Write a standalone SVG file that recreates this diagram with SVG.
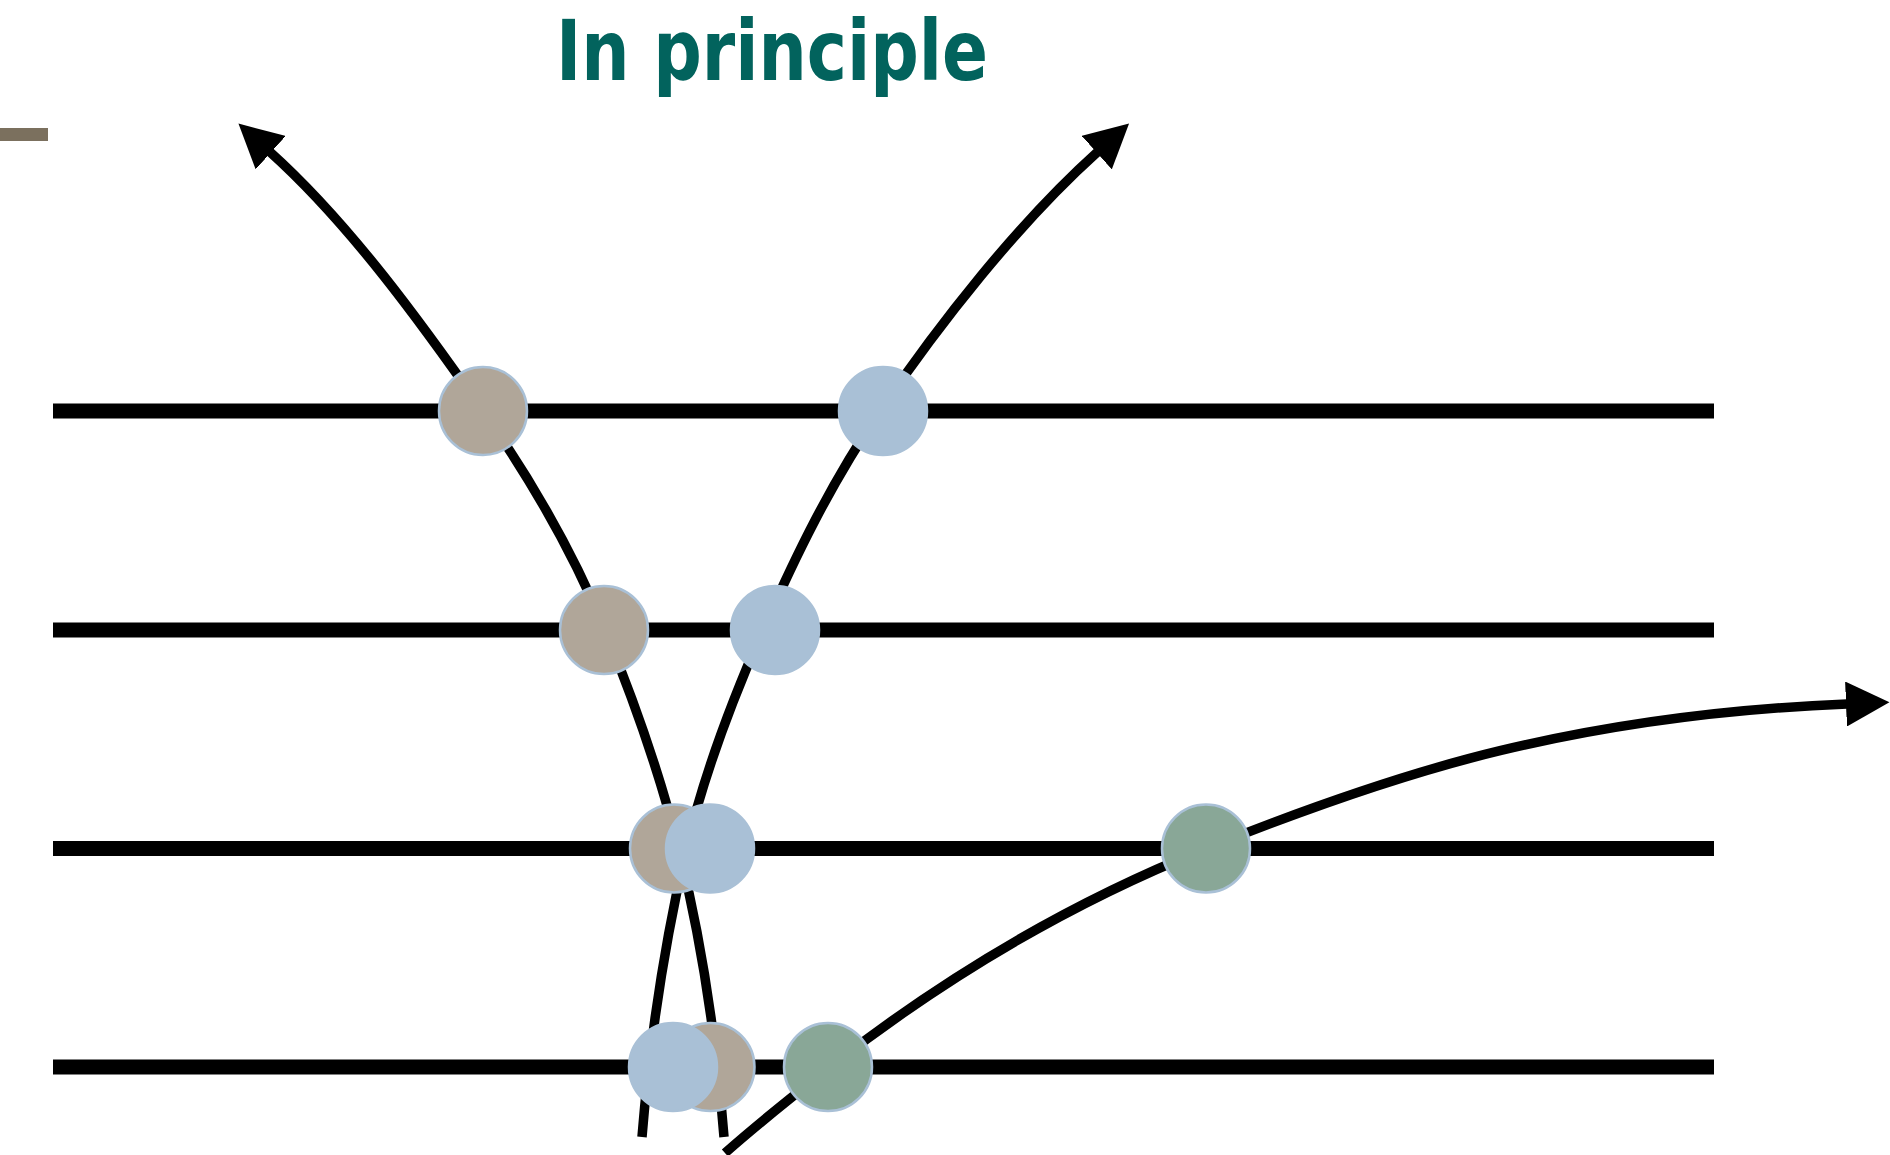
<svg xmlns="http://www.w3.org/2000/svg" width="1890" height="1155" viewBox="0 0 1890 1155">
  <style>
    .title { font-family: "DejaVu Sans Condensed", "DejaVu Sans", "Liberation Sans", sans-serif; font-weight: bold; font-size: 84px; fill: #02635d; }
    .layer { stroke: #000; stroke-width: 15; fill: none; }
    .track { stroke: #000; stroke-width: 9.5; fill: none; stroke-linecap: butt; }
    .hit { stroke: #a9c0d6; stroke-width: 2.5; }
    .hit-a { fill: #b0a699; }
    .hit-b { fill: #a9c0d6; }
    .hit-c { fill: #89a797; }
  </style>
  <defs>
    <marker id="arrow" markerUnits="userSpaceOnUse" orient="auto" viewBox="0 0 44 45" markerWidth="44" markerHeight="45" refX="1" refY="22.5">
      <path d="M0,0 L43.5,22.5 L0,45 Z" fill="#000"/>
    </marker>
  </defs>

  <rect width="1890" height="1155" fill="#fff"/>

  <!-- heading -->
  <text class="title" x="556" y="80" textLength="432" lengthAdjust="spacingAndGlyphs">In principle</text>
  <rect x="0" y="128" width="48" height="13" fill="#7b705e"/>

  <!-- detector layers -->
  <g id="layers">
    <line class="layer" x1="53" y1="411" x2="1714" y2="411"/>
    <line class="layer" x1="53" y1="630" x2="1714" y2="630"/>
    <line class="layer" x1="53" y1="848.5" x2="1714" y2="848.5"/>
    <line class="layer" x1="53" y1="1067" x2="1714" y2="1067"/>
  </g>

  <!-- particle tracks -->
  <g id="connectors">
    <path id="track-a" class="track" marker-end="url(#arrow)" d="M724,1137 C716.3,1041.3 702.9,945.7 679,850 C660.7,776.7 635.1,703.3 605,630 C575.1,557 534.1,484 483,411 C422.3,324.3 350,224 270,152"/>
    <path id="track-b" class="track" marker-end="url(#arrow)" d="M642,1137 C649.7,1041.3 664,945.7 686,850 C703.1,776.7 730.7,703.3 763,630 C795.1,557 830.4,484 880,411 C938.9,324.3 1017.5,224 1097.5,152"/>
    <path id="track-c" class="track" marker-end="url(#arrow)" d="M725,1153 C760,1122 795.7,1093.8 830,1067 C955,969.5 1080,899 1205,849 C1303.3,809.7 1401.7,774.3 1500,750.7 C1615.7,722.9 1731.3,708.6 1847,704"/>
  </g>

  <!-- hits on the layers -->
  <g id="hit-a1"><circle class="hit hit-a" cx="483" cy="411" r="44"/></g>
  <g id="hit-b1"><circle class="hit hit-b" cx="883" cy="411" r="44"/></g>
  <g id="hit-a2"><circle class="hit hit-a" cx="604" cy="630" r="44"/></g>
  <g id="hit-b2"><circle class="hit hit-b" cx="775" cy="630" r="44"/></g>
  <g id="hit-a3"><circle class="hit hit-a" cx="674" cy="848.5" r="44"/></g>
  <g id="hit-b3"><circle class="hit hit-b" cx="710" cy="848.5" r="44"/></g>
  <g id="hit-c3"><circle class="hit hit-c" cx="1206" cy="848.5" r="44"/></g>
  <g id="hit-a4"><circle class="hit hit-a" cx="710.5" cy="1067" r="44"/></g>
  <g id="hit-b4"><circle class="hit hit-b" cx="673" cy="1067" r="44"/></g>
  <g id="hit-c4"><circle class="hit hit-c" cx="828" cy="1067" r="44"/></g>
</svg>
